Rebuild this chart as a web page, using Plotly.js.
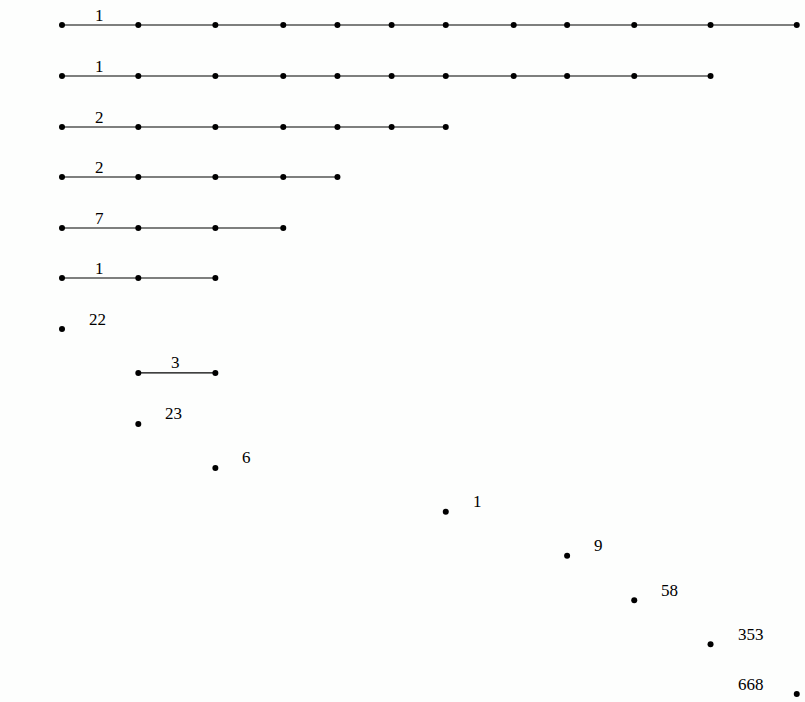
<!DOCTYPE html>
<html>
<head>
<meta charset="utf-8">
<script src="https://cdn.plot.ly/plotly-3.0.1.min.js"></script>
<style>html,body{margin:0;padding:0;background:#fdfefd;}</style>
</head>
<body>
<div id="chart" style="width:805px;height:702px;"></div>
<script>
// Column positions (stage values) along the horizontal axis
const colPos = [0, 1, 2.01, 2.9, 3.61, 4.32, 5.03, 5.92, 6.62, 7.5, 8.5, 9.63];
// Row positions (vertical, top = 0)
const rowPos = [0, 1.01, 2.02, 3.01, 4.02, 5.01, 6.02, 6.89, 7.9, 8.77, 9.64, 10.51, 11.39, 12.26, 13.25];
// Each row spans from startCol to endCol (indices into colPos)
const startCol = [0, 0, 0, 0, 0, 0, 0, 1, 1, 2, 6, 8, 9, 10, 11];
const endCol   = [11, 10, 6, 4, 3, 2, 0, 2, 1, 2, 6, 8, 9, 10, 11];
const counts   = [1, 1, 2, 2, 7, 1, 22, 3, 23, 6, 1, 9, 58, 353, 668];

const traces = [];
const annotations = [];
const lblFont = {family: 'Liberation Serif', size: 17, color: '#000'};

for (let i = 0; i < counts.length; i++) {
  const xs = [], ys = [];
  for (let c = startCol[i]; c <= endCol[i]; c++) { xs.push(colPos[c]); ys.push(rowPos[i]); }
  traces.push({
    type: 'scatter', mode: 'lines+markers', x: xs, y: ys,
    line: {color: '#000', width: 1.2},
    marker: {color: '#000', size: 6},
    hoverinfo: 'skip', showlegend: false, cliponaxis: false
  });
  if (xs.length > 1) {
    annotations.push({
      x: (colPos[startCol[i]] + colPos[startCol[i] + 1]) / 2, y: rowPos[i],
      xref: 'x', yref: 'y', text: String(counts[i]), showarrow: false,
      xanchor: 'center', yanchor: 'middle', xshift: -1, yshift: 10, font: lblFont
    });
  } else {
    const last = startCol[i] === colPos.length - 1;
    annotations.push({
      x: colPos[startCol[i]], y: rowPos[i],
      xref: 'x', yref: 'y', text: String(counts[i]), showarrow: false,
      xanchor: last ? 'right' : 'left', yanchor: 'middle',
      xshift: last ? -31 : 25, yshift: 10, font: lblFont
    });
  }
}

const layout = {
  width: 805, height: 702,
  margin: {l: 0, r: 0, t: 0, b: 0, pad: 0},
  paper_bgcolor: '#fdfefd', plot_bgcolor: '#fdfefd',
  font: {family: 'Liberation Serif'},
  xaxis: {range: [-0.8126, 9.738], visible: false, showgrid: false, zeroline: false},
  yaxis: {range: [13.406, -0.495], visible: false, showgrid: false, zeroline: false},
  annotations: annotations,
  showlegend: false
};

Plotly.newPlot('chart', traces, layout, {staticPlot: true, displayModeBar: false});
</script>
</body>
</html>
